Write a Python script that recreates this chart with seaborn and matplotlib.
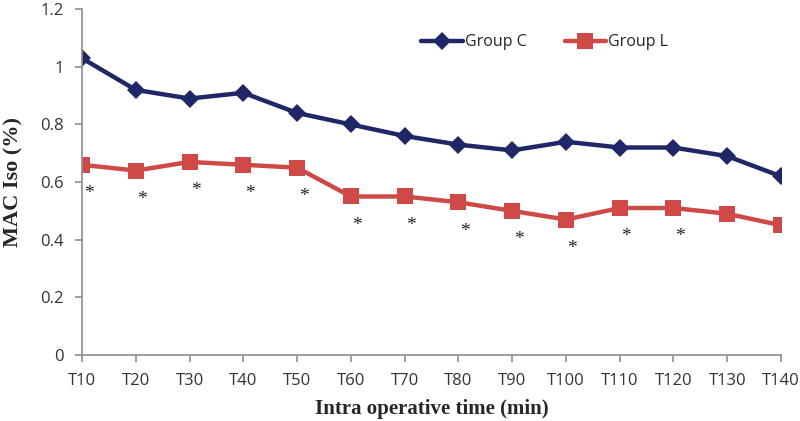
import pandas as pd
import seaborn as sns
import matplotlib.pyplot as plt
from matplotlib.ticker import FormatStrFormatter

# Дані з графіка
time_points = ["T10", "T20", "T30", "T40", "T50", "T60", "T70",
               "T80", "T90", "T100", "T110", "T120", "T130", "T140"]
group_c = [1.03, 0.92, 0.89, 0.91, 0.84, 0.80, 0.76,
           0.73, 0.71, 0.74, 0.72, 0.72, 0.69, 0.62]
group_l = [0.66, 0.64, 0.67, 0.66, 0.65, 0.55, 0.55,
           0.53, 0.50, 0.47, 0.51, 0.51, 0.49, 0.45]
significant = [True] * 12 + [False, False]

c_blue = "#1f2766"
c_red = "#cf4a46"
axis_grey = "#8c8c8c"

df = pd.DataFrame({
    "pos": list(range(len(time_points))) * 2,
    "MAC": group_c + group_l,
    "group": ["Group C"] * len(group_c) + ["Group L"] * len(group_l),
})

sns.set_style("white")
plt.rcParams["font.family"] = ["Open Sans", "DejaVu Sans"]

fig = plt.figure(figsize=(8, 4.21), dpi=100)
ax = fig.add_axes([0.1025, 0.157, 0.8738, 0.821])

sns.lineplot(data=df, x="pos", y="MAC", hue="group", style="group",
             palette={"Group C": c_blue, "Group L": c_red},
             markers={"Group C": "D", "Group L": "s"}, dashes=False,
             linewidth=3.2, markersize=9, markeredgewidth=0, ax=ax)

# збільшуємо квадрати
for line in ax.get_lines():
    if line.get_marker() == "s":
        line.set_markersize(11)

# зірочки значущості
for i, (val, sig) in enumerate(zip(group_l, significant)):
    if sig:
        ax.text(i + 0.12, val - 0.1, "*", ha="center", va="center",
                fontsize=14, color="#222222", family="Liberation Serif")

ax.set_xlim(0, len(time_points) - 1)
ax.set_ylim(0, 1.2)
ax.set_xticks(range(len(time_points)))
ax.set_xticklabels(time_points)
ax.set_yticks([0, 0.2, 0.4, 0.6, 0.8, 1.0, 1.2])
ax.yaxis.set_major_formatter(FormatStrFormatter("%g"))
ax.tick_params(axis="both", labelsize=12, labelcolor="#333333",
               color=axis_grey, length=5, width=1.2, direction="out",
               bottom=True, left=True, pad=8)
ax.tick_params(axis="x", pad=8)

for side in ["top", "right"]:
    ax.spines[side].set_visible(False)
for side in ["left", "bottom"]:
    ax.spines[side].set_color(axis_grey)
    ax.spines[side].set_linewidth(1.2)

ax.set_xlabel("Intra operative time (min)", family="Liberation Serif",
              fontweight="bold", fontsize=15, labelpad=7)
ax.set_ylabel("MAC Iso (%)", family="Liberation Serif",
              fontweight="bold", fontsize=16, labelpad=12)

handles, labels = ax.get_legend_handles_labels()
ax.legend(handles, labels, ncol=2, frameon=False, fontsize=11.5,
          loc="center left", bbox_to_anchor=(0.465, 0.905),
          handlelength=2.6, handletextpad=0.1, columnspacing=2.4)

fig.savefig("out.png", dpi=100)
